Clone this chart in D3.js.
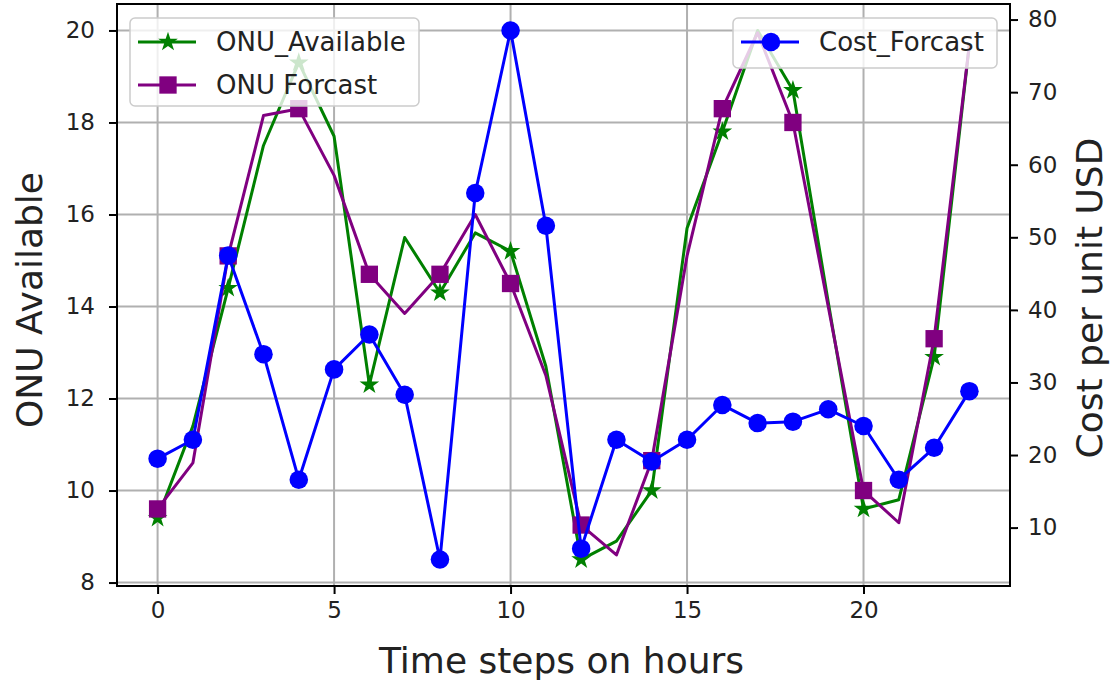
<!DOCTYPE html>
<html>
<head>
<meta charset="utf-8">
<script src="https://cdn.jsdelivr.net/npm/d3@7"></script>
<style>
  html, body { margin: 0; padding: 0; background: #fff; }
  svg { display: block; font-family: "DejaVu Sans", sans-serif; }
</style>
</head>
<body>
<div id="chart"></div>
<script>
// Data
const hours = [0, 1, 2, 3, 4, 5, 6, 7, 8, 9, 10, 11, 12, 13, 14, 15, 16, 17, 18, 19, 20, 21, 22, 23];
const onuAvailable = [9.4, 11.4, 14.4, 17.5, 19.3, 17.7, 12.3, 15.5, 14.3, 15.6, 15.2, 12.7,
  8.5, 8.9, 10.0, 15.7, 17.8, 20.0, 18.7, 14.1, 9.6, 9.8, 12.9, 19.7];
const onuForecast = [9.6, 10.6, 15.1, 18.15, 18.3, 16.85, 14.7, 13.85, 14.7, 16.0, 14.5, 12.5,
  9.25, 8.6, 10.65, 15.1, 18.3, 19.95, 18.0, 14.0, 10.0, 9.3, 13.3, 19.7];
const costForecast = [19.5, 22.1, 47.5, 33.9, 16.6, 31.8, 36.6, 28.3, 5.6, 56.1, 78.5, 51.6,
  7.1, 22.1, 19.1, 22.1, 26.9, 24.4, 24.6, 26.3, 24.0, 16.6, 21.0, 28.8];

const xTicks = [0, 5, 10, 15, 20];
const leftTicks = [8, 10, 12, 14, 16, 18, 20];
const rightTicks = [10, 20, 30, 40, 50, 60, 70, 80];

const width = 1112, height = 684;
const plot = { left: 117, right: 1010, top: 4, bottom: 586 };

// matplotlib-like 5% margins
function padded(vals) {
  const [lo, hi] = d3.extent(vals);
  const m = (hi - lo) * 0.05;
  return [lo - m, hi + m];
}

const x = d3.scaleLinear().domain(padded(hours)).range([plot.left, plot.right]);
const yL = d3.scaleLinear().domain(padded(onuAvailable.concat(onuForecast))).range([plot.bottom, plot.top]);
const yR = d3.scaleLinear().domain(padded(costForecast)).range([plot.bottom, plot.top]);

const svg = d3.select('#chart').append('svg')
  .attr('width', width)
  .attr('height', height);

// Grid (left axis only)
const grid = svg.append('g').attr('class', 'grid')
  .attr('stroke', '#b0b0b0').attr('stroke-width', 2);
grid.selectAll('line.v').data(xTicks).join('line')
  .attr('class', 'v')
  .attr('x1', d => x(d)).attr('x2', d => x(d))
  .attr('y1', plot.top).attr('y2', plot.bottom);
grid.selectAll('line.h').data(leftTicks).join('line')
  .attr('class', 'h')
  .attr('x1', plot.left).attr('x2', plot.right)
  .attr('y1', d => yL(d)).attr('y2', d => yL(d));

const star = d3.symbol().type(d3.symbolStar).size(120);
const square = d3.symbol().type(d3.symbolSquare).size(300);
const circle = d3.symbol().type(d3.symbolCircle).size(270);

function drawSeries(values, yScale, color, symbol, every) {
  const g = svg.append('g');
  g.append('path')
    .datum(values)
    .attr('fill', 'none')
    .attr('stroke', color)
    .attr('stroke-width', 3)
    .attr('stroke-linejoin', 'round')
    .attr('d', d3.line().x((d, i) => x(hours[i])).y(d => yScale(d)));
  g.selectAll('path.mk')
    .data(values.map((v, i) => ({ h: hours[i], v })).filter((d, i) => i % every === 0))
    .join('path')
    .attr('class', 'mk')
    .attr('d', symbol)
    .attr('fill', color)
    .attr('transform', d => `translate(${x(d.h)},${yScale(d.v)})`);
}

function drawLegend(box, items) {
  const g = svg.append('g');
  g.append('rect')
    .attr('x', box.x).attr('y', box.y)
    .attr('width', box.w).attr('height', box.h)
    .attr('rx', 5)
    .attr('fill', '#fff').attr('fill-opacity', 0.8)
    .attr('stroke', '#cccccc').attr('stroke-width', 1.5);
  items.forEach((it, i) => {
    const cy = box.y + 24 + i * 43;
    const x0 = box.x + 8;
    g.append('line')
      .attr('x1', x0).attr('x2', x0 + 58)
      .attr('y1', cy).attr('y2', cy)
      .attr('stroke', it.color).attr('stroke-width', 3);
    g.append('path')
      .attr('d', it.symbol)
      .attr('fill', it.color)
      .attr('transform', `translate(${x0 + 30},${cy})`);
    g.append('text')
      .attr('x', x0 + 78).attr('y', cy)
      .attr('dy', '0.36em')
      .attr('font-size', 26)
      .attr('fill', '#222')
      .text(it.label);
  });
}

// Left axis series + legend (under the twin axis)
drawSeries(onuAvailable, yL, 'green', star, 2);
drawSeries(onuForecast, yL, 'purple', square, 2);
drawLegend({ x: 130, y: 18, w: 289, h: 88 }, [
  { label: 'ONU_Available', color: 'green', symbol: star },
  { label: 'ONU Forcast', color: 'purple', symbol: square }
]);

// Right axis series + legend
drawSeries(costForecast, yR, 'blue', circle, 1);
drawLegend({ x: 733, y: 18, w: 264, h: 50 }, [
  { label: 'Cost_Forcast', color: 'blue', symbol: circle }
]);

// Frame
svg.append('rect')
  .attr('x', plot.left).attr('y', plot.top)
  .attr('width', plot.right - plot.left).attr('height', plot.bottom - plot.top)
  .attr('fill', 'none').attr('stroke', '#000').attr('stroke-width', 2);

// Axes
function styleAxis(g) {
  g.select('.domain').remove();
  g.selectAll('.tick line').attr('stroke', '#000').attr('stroke-width', 2);
  g.selectAll('.tick text')
    .attr('font-size', 23)
    .attr('font-family', '"DejaVu Sans", sans-serif')
    .attr('fill', '#222');
}

svg.append('g')
  .attr('transform', `translate(0,${plot.bottom})`)
  .call(d3.axisBottom(x).tickValues(xTicks).tickFormat(d3.format('d')).tickSize(8).tickPadding(8))
  .call(styleAxis);

svg.append('g')
  .attr('transform', `translate(${plot.left},0)`)
  .call(d3.axisLeft(yL).tickValues(leftTicks).tickFormat(d3.format('d')).tickSize(8).tickPadding(14))
  .call(styleAxis);

svg.append('g')
  .attr('transform', `translate(${plot.right},0)`)
  .call(d3.axisRight(yR).tickValues(rightTicks).tickFormat(d3.format('d')).tickSize(8).tickPadding(10))
  .call(styleAxis);

// Axis labels
svg.append('text')
  .attr('x', (plot.left + plot.right) / 2 - 2)
  .attr('y', 673)
  .attr('text-anchor', 'middle')
  .attr('font-size', 36)
  .attr('fill', '#222')
  .text('Time steps on hours');

svg.append('text')
  .attr('transform', 'translate(42,300) rotate(-90)')
  .attr('text-anchor', 'middle')
  .attr('font-size', 36)
  .attr('fill', '#222')
  .text('ONU Available');

svg.append('text')
  .attr('transform', 'translate(1102,298) rotate(-90)')
  .attr('text-anchor', 'middle')
  .attr('font-size', 36)
  .attr('fill', '#222')
  .text('Cost per unit USD');
</script>
</body>
</html>
